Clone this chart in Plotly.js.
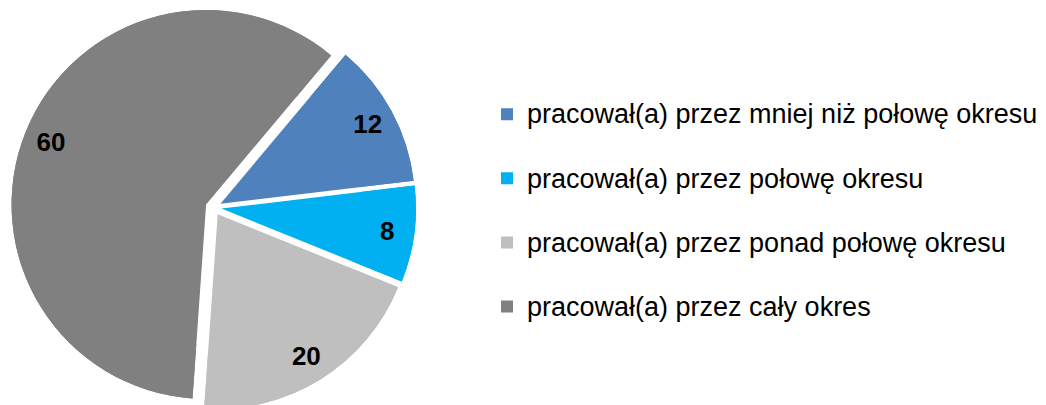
<!DOCTYPE html>
<html>
<head>
<meta charset="utf-8">
<script src="https://cdn.plot.ly/plotly-3.0.1.min.js"></script>
<style>
  html, body { margin: 0; padding: 0; background: #ffffff; overflow: hidden; }
  #chart { width: 1046px; height: 410px; }
</style>
</head>
<body>
<div id="chart"></div>
<script>
// Data
const categories = [
  "pracował(a) przez mniej niż połowę okresu",
  "pracował(a) przez połowę okresu",
  "pracował(a) przez ponad połowę okresu",
  "pracował(a) przez cały okres"
];
const values = [12, 8, 20, 60];
const sliceColors = ["#4F81BD", "#00B0F0", "#BFBFBF", "#808080"];

const legendLabels = categories.map(c => '<span style="font-size:27px">' + c + '</span><br>\u00A0');
const pieDomain = { x: [0.0105, 0.3977], y: [0, 1] };
const pullAmount = 0.041;

// Full pie (slices + legend)
const pieBase = {
  type: "pie",
  labels: legendLabels,
  values: values,
  sort: false,
  direction: "clockwise",
  rotation: 40,
  pull: pullAmount,
  domain: pieDomain,
  marker: { colors: sliceColors, line: { width: 0 } },
  textinfo: "none",
  hoverinfo: "skip",
  showlegend: true
};

// Same slices as an outer ring, only to carry the value labels near the rim
const pieLabels = {
  type: "pie",
  labels: legendLabels,
  values: values,
  sort: false,
  direction: "clockwise",
  rotation: 40,
  pull: pullAmount,
  hole: 0.72,
  domain: pieDomain,
  marker: { colors: sliceColors, line: { width: 0 } },
  textinfo: "value",
  textposition: "inside",
  insidetextorientation: "horizontal",
  textfont: { family: "Liberation Sans, Arial, sans-serif", size: 26, color: "#000000", weight: "bold" },
  hoverinfo: "skip",
  showlegend: false
};

const layout = {
  width: 1046,
  height: 410,
  margin: { l: 0, r: 0, t: 5, b: 0, autoexpand: false },
  paper_bgcolor: "#ffffff",
  plot_bgcolor: "#ffffff",
  font: { family: "Liberation Sans, Arial, sans-serif", color: "#000000" },
  showlegend: true,
  legend: {
    x: 0.4656,
    xanchor: "left",
    y: 0.784,
    yanchor: "top",
    valign: "top",
    font: { family: "Liberation Sans, Arial, sans-serif", size: 23.5, color: "#000000" },
    bgcolor: "rgba(0,0,0,0)",
    borderwidth: 0
  }
};

Plotly.newPlot("chart", [pieBase, pieLabels], layout, { displayModeBar: false, staticPlot: true });
</script>
</body>
</html>
